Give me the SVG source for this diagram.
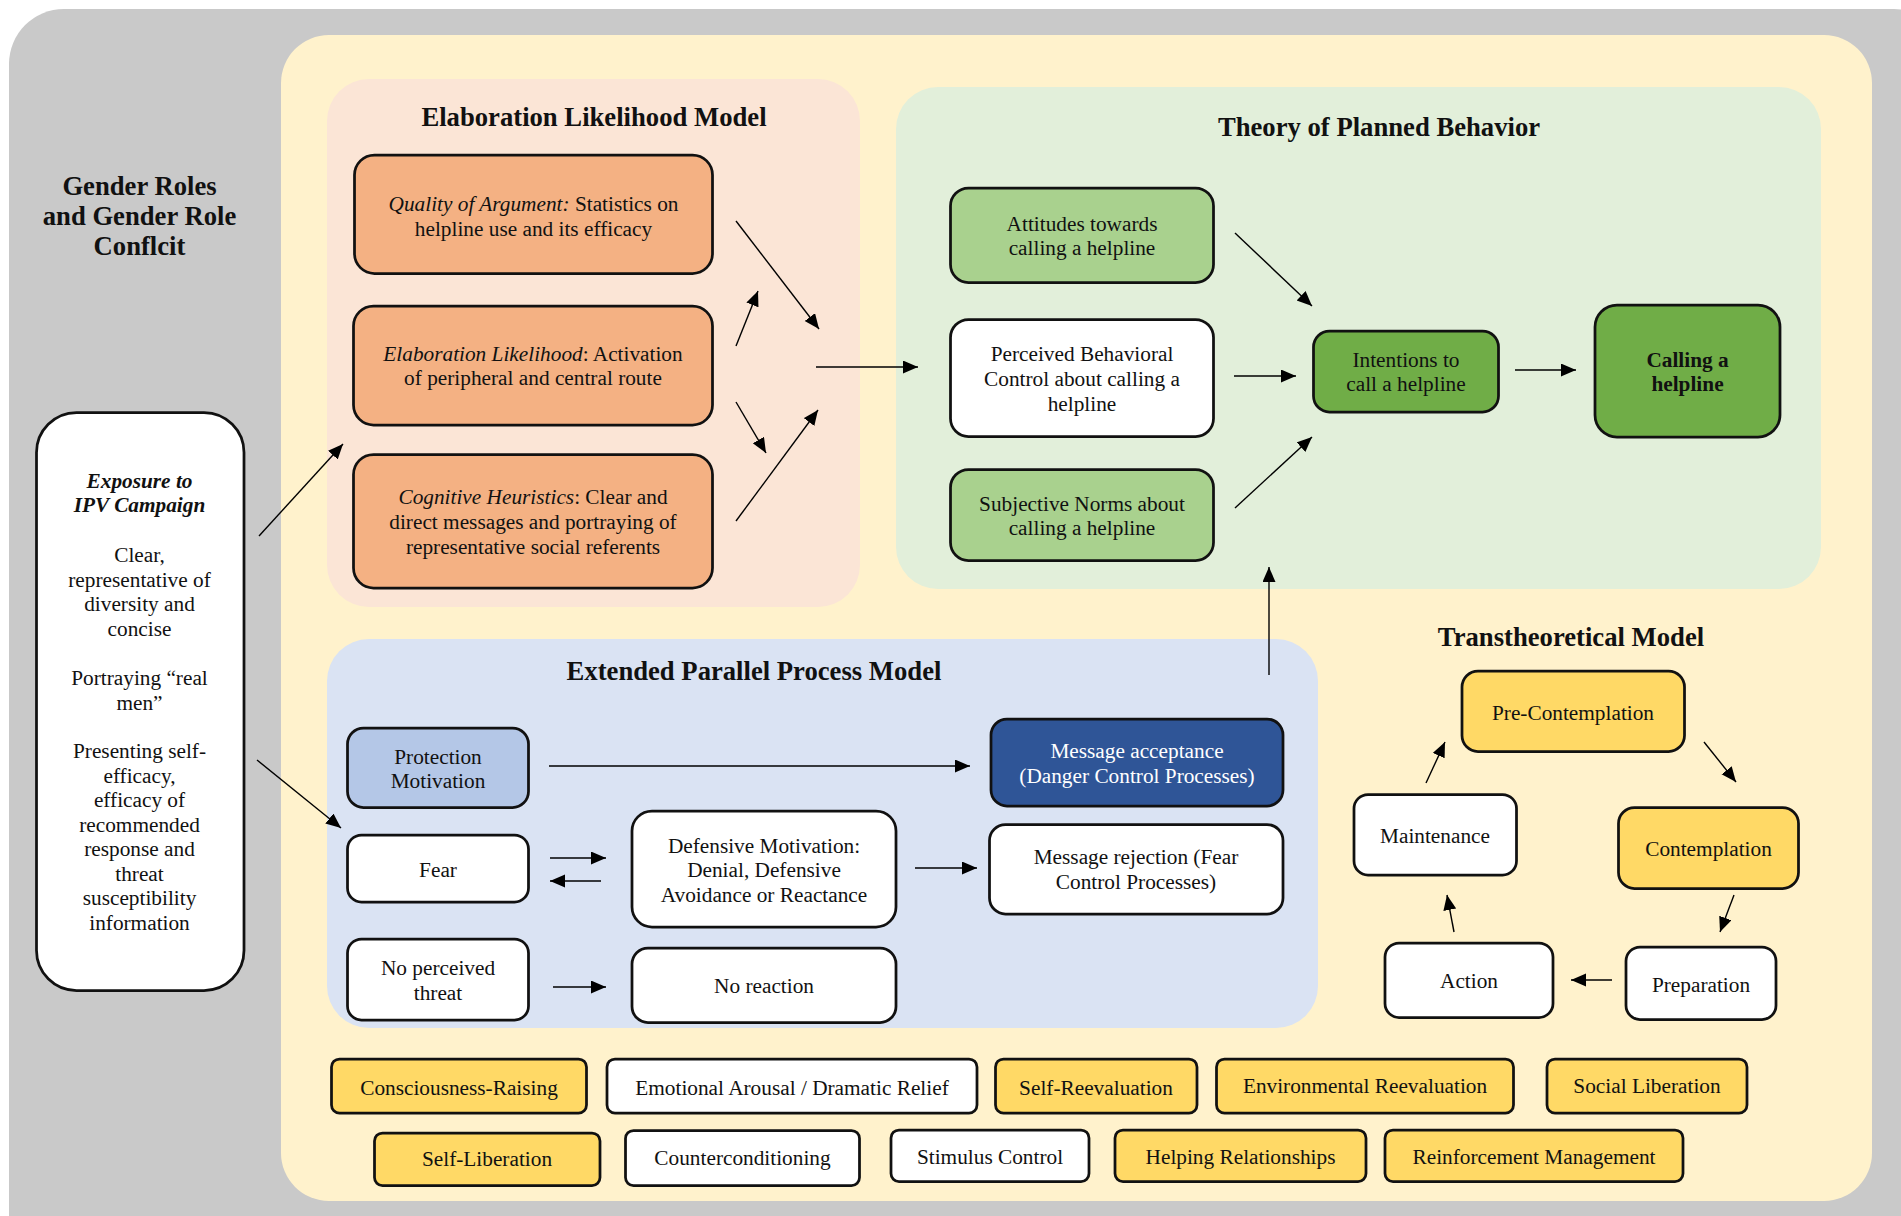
<svg xmlns="http://www.w3.org/2000/svg" width="1901" height="1216" viewBox="0 0 1901 1216">
<defs>
<marker id="ah" markerUnits="userSpaceOnUse" markerWidth="16" markerHeight="14" refX="15" refY="6.5" orient="auto">
<path d="M0,0 L15,6.5 L0,13 Z" fill="#000"/>
</marker>
<style>
text{font-family:'Liberation Serif','Times New Roman',serif;fill:#111;text-anchor:middle;font-size:21.3px}
.title{font-size:26.67px;font-weight:bold}
.box{stroke:#111;stroke-width:2.75}
.w{fill:#fff}.or{fill:#f4b183}.lg{fill:#a9d18e}.dg{fill:#70ad47}.pb{fill:#b4c7e7}.db{fill:#2f5597}.gd{fill:#ffd966}
.conn line{stroke:#000;stroke-width:1.4;marker-end:url(#ah)}
</style>
</defs>
<rect x="9" y="9" width="1940" height="1260" rx="55" fill="#c9c9c9"/>
<rect x="281" y="35" width="1591" height="1166" rx="48" fill="#fff2cc"/>
<rect x="327" y="79" width="533" height="528" rx="42" fill="#fbe5d6"/>
<rect x="896" y="87" width="925" height="502" rx="42" fill="#e2efda"/>
<rect x="327" y="639" width="991" height="389" rx="42" fill="#dae3f3"/>

<g id="gender-title">
<text class="title" x="139.5" y="195">Gender Roles</text>
<text class="title" x="139.5" y="225">and Gender Role</text>
<text class="title" x="139.5" y="255">Conflcit</text>
</g>
<text class="title" x="594" y="126">Elaboration Likelihood Model</text>
<text class="title" x="1379" y="136">Theory of Planned Behavior</text>
<text class="title" x="754" y="680">Extended Parallel Process Model</text>
<text class="title" x="1571" y="646">Transtheoretical Model</text>

<g id="exposure">
<rect class="box w" x="36.5" y="412.5" width="207.5" height="578" rx="40"/>
<text x="139.5" y="488" font-weight="bold" font-style="italic">Exposure to</text>
<text x="139.5" y="512" font-weight="bold" font-style="italic">IPV Campaign</text>
<text x="139.5" y="562">Clear,</text>
<text x="139.5" y="586.5">representative of</text>
<text x="139.5" y="610.5">diversity and</text>
<text x="139.5" y="636">concise</text>
<text x="139.5" y="684.5">Portraying “real</text>
<text x="139.5" y="709.5">men”</text>
<text x="139.5" y="757.5">Presenting self-</text>
<text x="139.5" y="782.5">efficacy,</text>
<text x="139.5" y="806.5">efficacy of</text>
<text x="139.5" y="831.5">recommended</text>
<text x="139.5" y="856">response and</text>
<text x="139.5" y="880.5">threat</text>
<text x="139.5" y="905">susceptibility</text>
<text x="139.5" y="929.5">information</text>
</g>

<g id="elm-quality">
<rect class="box or" x="354.5" y="155" width="358" height="118.5" rx="20"/>
<text x="533.5" y="210.5"><tspan font-style="italic">Quality of Argument:</tspan> Statistics on</text>
<text x="533.5" y="235.5">helpline use and its efficacy</text>
</g>
<g id="elm-likelihood">
<rect class="box or" x="353.5" y="306" width="359" height="119" rx="20"/>
<text x="533" y="360.5"><tspan font-style="italic">Elaboration Likelihood</tspan>: Activation</text>
<text x="533" y="385">of peripheral and central route</text>
</g>
<g id="elm-heuristics">
<rect class="box or" x="353.5" y="454.5" width="359" height="133.5" rx="20"/>
<text x="533" y="503.5"><tspan font-style="italic">Cognitive Heuristics</tspan>: Clear and</text>
<text x="533" y="529">direct messages and portraying of</text>
<text x="533" y="553.5">representative social referents</text>
</g>

<g id="tpb-attitudes">
<rect class="box lg" x="950.5" y="188" width="263" height="94.5" rx="18"/>
<text x="1082" y="231">Attitudes towards</text>
<text x="1082" y="255">calling a helpline</text>
</g>
<g id="tpb-control">
<rect class="box w" x="950.5" y="319.5" width="263" height="117" rx="18"/>
<text x="1082" y="360.5">Perceived Behavioral</text>
<text x="1082" y="385.5">Control about calling a</text>
<text x="1082" y="410.5">helpline</text>
</g>
<g id="tpb-norms">
<rect class="box lg" x="950.5" y="469.5" width="263" height="91" rx="18"/>
<text x="1082" y="510.5">Subjective Norms about</text>
<text x="1082" y="534.5">calling a helpline</text>
</g>
<g id="tpb-intentions">
<rect class="box dg" x="1313.5" y="331" width="185" height="81" rx="16"/>
<text x="1406" y="366.5">Intentions to</text>
<text x="1406" y="391">call a helpline</text>
</g>
<g id="tpb-calling">
<rect class="box dg" x="1595" y="305" width="185" height="132" rx="22"/>
<text x="1687.5" y="367" font-weight="bold">Calling a</text>
<text x="1687.5" y="391" font-weight="bold">helpline</text>
</g>

<g id="eppm-protection">
<rect class="box pb" x="347.5" y="728" width="181" height="79.5" rx="16"/>
<text x="438" y="763.5">Protection</text>
<text x="438" y="788">Motivation</text>
</g>
<g id="eppm-fear">
<rect class="box w" x="347.5" y="835" width="181" height="67" rx="14"/>
<text x="438" y="876.5">Fear</text>
</g>
<g id="eppm-nothreat">
<rect class="box w" x="347.5" y="939" width="181" height="81" rx="14"/>
<text x="438" y="974.5">No perceived</text>
<text x="438" y="999.5">threat</text>
</g>
<g id="eppm-defensive">
<rect class="box w" x="632" y="811" width="264" height="116" rx="20"/>
<text x="764" y="852.5">Defensive Motivation:</text>
<text x="764" y="876.5">Denial, Defensive</text>
<text x="764" y="902">Avoidance or Reactance</text>
</g>
<g id="eppm-noreaction">
<rect class="box w" x="632" y="948" width="264" height="74.5" rx="16"/>
<text x="764" y="992.5">No reaction</text>
</g>
<g id="eppm-acceptance">
<rect class="box db" x="991" y="719" width="292" height="87" rx="16"/>
<text x="1137" y="757.5" style="fill:#fff">Message acceptance</text>
<text x="1137" y="782.5" style="fill:#fff">(Danger Control Processes)</text>
</g>
<g id="eppm-rejection">
<rect class="box w" x="989.5" y="824.5" width="293.5" height="89.5" rx="16"/>
<text x="1136" y="863.5">Message rejection (Fear</text>
<text x="1136" y="888.5">Control Processes)</text>
</g>

<g id="ttm-precontemplation">
<rect class="box gd" x="1462" y="671" width="222.5" height="80.5" rx="16"/>
<text x="1573" y="719.5">Pre-Contemplation</text>
</g>
<g id="ttm-contemplation">
<rect class="box gd" x="1618.5" y="807.5" width="180" height="81" rx="16"/>
<text x="1708.5" y="856">Contemplation</text>
</g>
<g id="ttm-preparation">
<rect class="box w" x="1626" y="947" width="150" height="72.5" rx="14"/>
<text x="1701" y="991.5">Preparation</text>
</g>
<g id="ttm-action">
<rect class="box w" x="1385" y="943" width="168" height="74.5" rx="14"/>
<text x="1469" y="987.5">Action</text>
</g>
<g id="ttm-maintenance">
<rect class="box w" x="1354" y="794.5" width="162.5" height="80.5" rx="14"/>
<text x="1435" y="842.5">Maintenance</text>
</g>

<g id="proc-consciousness"><rect class="box gd" x="331.5" y="1059" width="255" height="54" rx="8"/><text x="459" y="1094.5">Consciousness-Raising</text></g>
<g id="proc-emotional"><rect class="box w" x="607" y="1059" width="370" height="54" rx="8"/><text x="792" y="1094.5">Emotional Arousal / Dramatic Relief</text></g>
<g id="proc-selfreevaluation"><rect class="box gd" x="995.5" y="1059" width="201.5" height="54" rx="8"/><text x="1096" y="1094.5">Self-Reevaluation</text></g>
<g id="proc-environmental"><rect class="box gd" x="1216.5" y="1059" width="297" height="54" rx="8"/><text x="1365" y="1093">Environmental Reevaluation</text></g>
<g id="proc-social"><rect class="box gd" x="1547" y="1059" width="200" height="54" rx="8"/><text x="1647" y="1093">Social Liberation</text></g>

<g id="proc-selfliberation"><rect class="box gd" x="374.5" y="1133" width="225.5" height="52.5" rx="8"/><text x="487" y="1166">Self-Liberation</text></g>
<g id="proc-counter"><rect class="box w" x="625.5" y="1130.5" width="234" height="55" rx="8"/><text x="742.5" y="1164.5">Counterconditioning</text></g>
<g id="proc-stimulus"><rect class="box w" x="891" y="1130" width="198" height="51.5" rx="8"/><text x="990" y="1163.5">Stimulus Control</text></g>
<g id="proc-helping"><rect class="box gd" x="1115" y="1130" width="251" height="51.5" rx="8"/><text x="1240.5" y="1163.5">Helping Relationships</text></g>
<g id="proc-reinforcement"><rect class="box gd" x="1385" y="1130" width="298" height="51.5" rx="8"/><text x="1534" y="1163.5">Reinforcement Management</text></g>

<g id="connectors" class="conn">
<line x1="736" y1="221" x2="819" y2="329"/>
<line x1="736" y1="346" x2="758" y2="291"/>
<line x1="736" y1="402" x2="766" y2="453"/>
<line x1="736" y1="521" x2="818" y2="410"/>
<line x1="816" y1="367" x2="918" y2="367"/>
<line x1="259" y1="536" x2="343" y2="444"/>
<line x1="257" y1="760" x2="341" y2="828"/>
<line x1="1235" y1="233" x2="1312" y2="306"/>
<line x1="1234" y1="376" x2="1296" y2="376"/>
<line x1="1235" y1="508" x2="1312" y2="437"/>
<line x1="1515" y1="370" x2="1576" y2="370"/>
<line x1="1269" y1="675" x2="1269" y2="567"/>
<line x1="549" y1="766" x2="970" y2="766"/>
<line x1="550" y1="858" x2="606" y2="858"/>
<line x1="601" y1="881" x2="550" y2="881"/>
<line x1="553" y1="987" x2="606" y2="987"/>
<line x1="915" y1="868" x2="977" y2="868"/>
<line x1="1426" y1="783" x2="1445" y2="742"/>
<line x1="1704" y1="742" x2="1736" y2="782"/>
<line x1="1734" y1="895" x2="1720" y2="932"/>
<line x1="1612" y1="980" x2="1571" y2="980"/>
<line x1="1454" y1="932" x2="1447" y2="895"/>
</g>
</svg>
